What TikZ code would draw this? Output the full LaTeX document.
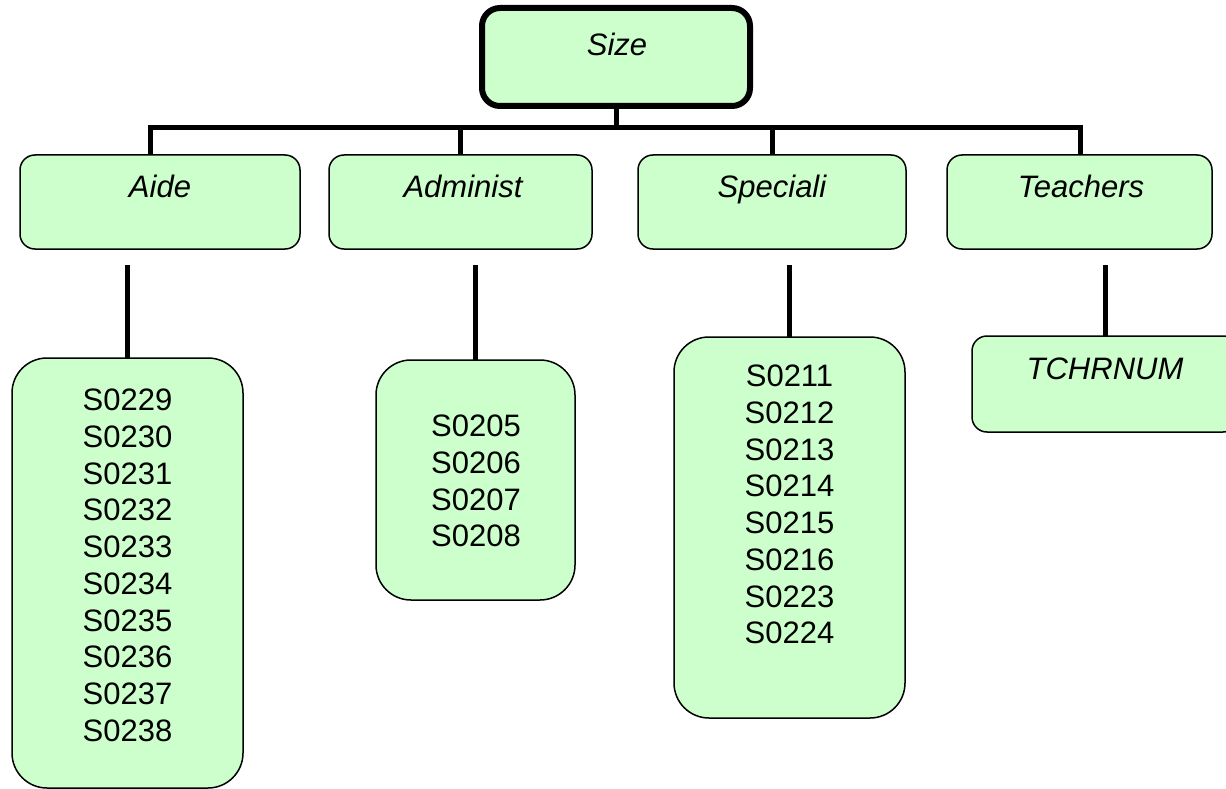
\documentclass[tikz,border=0pt]{standalone}
\usepackage{fontspec}
\setmainfont{Liberation Sans}
\definecolor{boxgreen}{HTML}{CCFFCC}
\begin{document}
\begin{tikzpicture}[x=1pt,y=-1pt,
  box/.style={draw=black, fill=boxgreen, line width=1.5pt, rounded corners=15pt,
    rectangle, inner sep=0pt, outer sep=0pt},
  topbox/.style={box, line width=6pt, rounded corners=18pt},
  leafbox/.style={box, rounded corners=35pt},
  conn/.style={draw=black, line width=5pt},
  lbl/.style={font=\fontsize{31}{36.7}\selectfont\itshape, inner sep=0pt, anchor=base},
  leaftxt/.style={font=\fontsize{31}{36.7}\selectfont, align=center, inner sep=0pt, anchor=north}
]
\useasboundingbox (0,0) rectangle (1226,789);
% coordinates
\coordinate (barL) at (150,128);
\coordinate (barA) at (460,128);
\coordinate (barS) at (772,128);
\coordinate (barR) at (1080,128);
\coordinate (aideT) at (127.5,265);
\coordinate (adminT) at (475.5,265);
\coordinate (specT) at (789.5,265);
\coordinate (teachT) at (1105,265);
% boxes
\node[topbox, minimum width=268pt, minimum height=98pt] (size) at (616,57) {};
\node[box, minimum width=280pt, minimum height=94pt] (aide) at (160,202) {};
\node[box, minimum width=263pt, minimum height=94pt] (admin) at (460.5,202) {};
\node[box, minimum width=268pt, minimum height=94pt] (spec) at (772,202) {};
\node[box, minimum width=265pt, minimum height=94pt] (teach) at (1079.5,202) {};
\node[leafbox, minimum width=231pt, minimum height=430pt] (aideleaf) at (127.5,573) {};
\node[leafbox, minimum width=199pt, minimum height=240pt] (adminleaf) at (475.5,480) {};
\node[leafbox, minimum width=231pt, minimum height=381pt] (specleaf) at (789.5,527.5) {};
\node[box, minimum width=266pt, minimum height=96pt] (teachleaf) at (1105,384) {};
% connectors
\draw[conn] (size.south) -- (size.south |- barL);
\draw[conn] ([xshift=-2.5pt]barL) -- ([xshift=2.5pt]barR);
\draw[conn] (barL) -- (barL |- aide.north);
\draw[conn] (barA) -- (barA |- admin.north);
\draw[conn] (barS) -- (barS |- spec.north);
\draw[conn] (barR) -- (barR |- teach.north);
\draw[conn] (aideT) -- (aideleaf.north);
\draw[conn] (adminT) -- (adminleaf.north);
\draw[conn] (specT) -- (specleaf.north);
\draw[conn] (teachT) -- (teachleaf.north);
% labels
\node[lbl] (sizelbl) at (617,56) {Size};
\node[lbl] (aidelbl) at (160,197) {Aide};
\node[lbl] (adminlbl) at (463,197) {Administ};
\node[lbl] (speclbl) at (772,197) {Speciali};
\node[lbl] (teachlbl) at (1081,197) {Teachers};
\node[lbl] (tchrlbl) at (1105,379) {TCHRNUM};
\node[leaftxt] (aidetxt) at (127.5,389) {S0229\\S0230\\S0231\\S0232\\S0233\\S0234\\S0235\\S0236\\S0237\\S0238};
\node[leaftxt] (admintxt) at (476,415) {S0205\\S0206\\S0207\\S0208};
\node[leaftxt] (spectxt) at (789.5,365) {S0211\\S0212\\S0213\\S0214\\S0215\\S0216\\S0223\\S0224};
\end{tikzpicture}
\end{document}
